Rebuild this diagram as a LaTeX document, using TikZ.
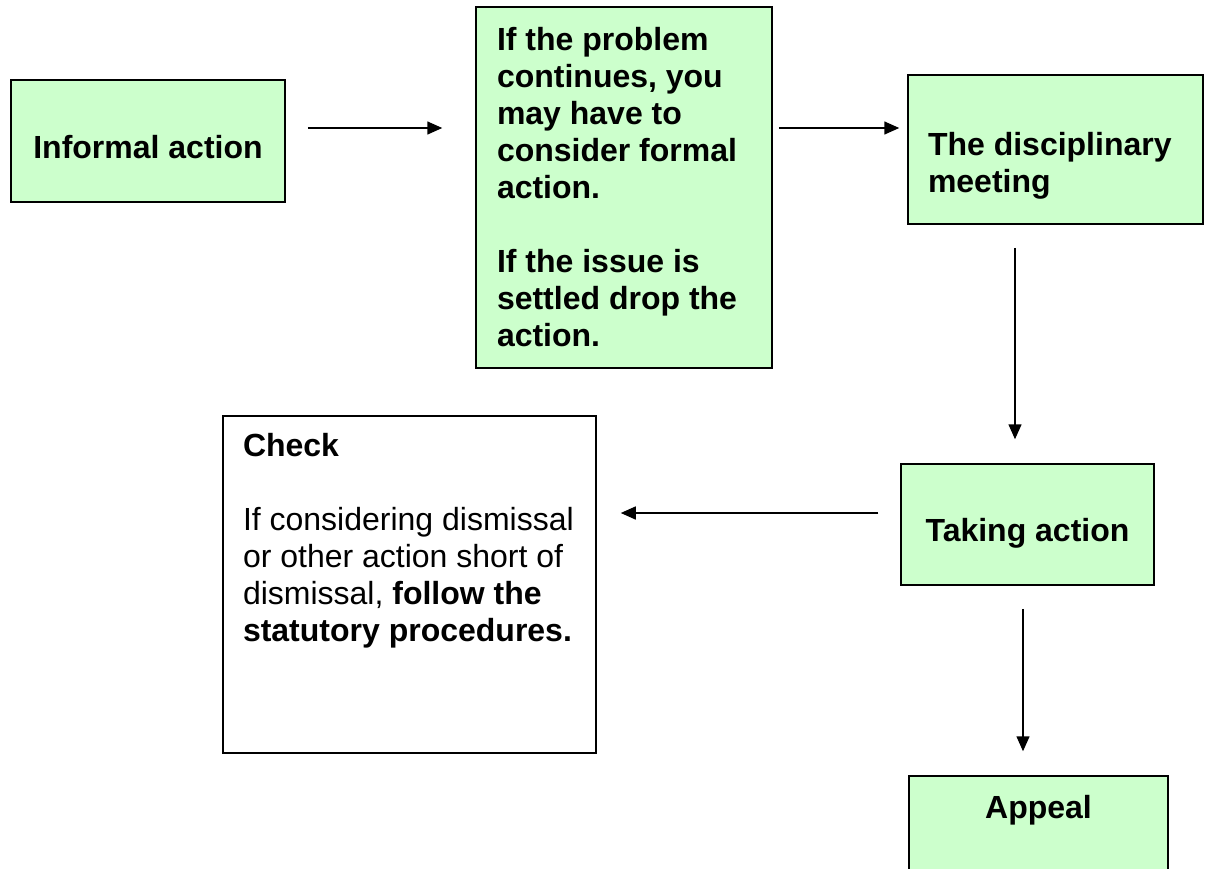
\documentclass[tikz,border=0pt]{standalone}
\usepackage{fontspec}
\setmainfont{Liberation Sans}
\usepackage{tikz}
\usetikzlibrary{arrows.meta,calc}
\definecolor{boxgreen}{RGB}{204,255,204}
\newcommand{\boxtext}[5]{\parbox[c][#1][t]{#2}{#4\vspace*{#3}#5}}

\begin{document}
\begin{tikzpicture}[x=0.5pt, y=-0.5pt,
    box/.style={draw, line width=0.75pt, fill=boxgreen, inner sep=0pt,
      font=\fontsize{16}{18.5}\selectfont\bfseries},
    note/.style={box, fill=white, font=\fontsize{16}{18.5}\selectfont},
    arrow/.style={-{Triangle[length=7.5pt,width=6.5pt]}, line width=0.75pt}]

  \useasboundingbox (0,0) rectangle (1205,868);

  % Boxes
  \node[box] (informal) at (148,141)
    {\boxtext{61pt}{137pt}{27.5pt}{\centering}{Informal action}};
  \node[box, inner xsep=10.5pt] (problem) at (624,187.5)
    {\boxtext{180.5pt}{127pt}{10pt}{\raggedright}{If the problem\\ continues, you\\ may have to\\ consider formal\\ action.\\[18.5pt] If the issue is\\ settled drop the\\ action.}};
  \node[box, inner xsep=10pt] (meeting) at (1055.5,149.5)
    {\boxtext{74.5pt}{127.5pt}{28.5pt}{\raggedright}{The disciplinary\\ meeting}};
  \node[box] (taking) at (1027.5,524.5)
    {\boxtext{60.5pt}{126.5pt}{27pt}{\centering}{Taking action}};
  \node[note, inner xsep=10pt] (check) at (409.5,584.5)
    {\boxtext{168.5pt}{166.5pt}{8.5pt}{\raggedright}{\textbf{Check}\\[18.5pt] If considering dismissal\\ or other action short of\\ dismissal, \textbf{follow the}\\ \textbf{statutory procedures.}}};
  \node[box] (appeal) at (1038.5,838)
    {\boxtext{62pt}{129.5pt}{9.5pt}{\centering}{Appeal}};

  % Arrows
  \draw[arrow] ($(informal.east)+(22,-13)$) -- ($(problem.west)+(-33,-59.5)$);
  \draw[arrow] ($(problem.east)+(6,-59.5)$) -- ($(meeting.west)+(-8,-21.5)$);
  \draw[arrow] ($(meeting.south)+(-40.5,23)$) -- ($(taking.north)+(-12.5,-24)$);
  \draw[arrow] ($(taking.west)+(-22,-11.5)$) -- ($(check.east)+(24,-71.5)$);
  \draw[arrow] ($(taking.south)+(-4.5,23)$) -- ($(appeal.north)+(-15.5,-24)$);

\end{tikzpicture}
\end{document}
